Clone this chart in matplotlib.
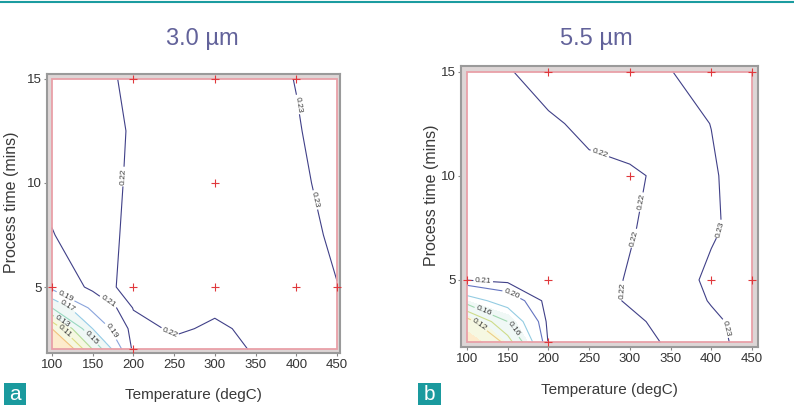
"""Contour maps of a film property over anneal temperature and process time."""

import matplotlib

matplotlib.use("Agg")
import matplotlib.pyplot as plt
from matplotlib.lines import Line2D
from matplotlib.patches import Rectangle

plt.rcParams["font.family"] = ["Liberation Sans", "DejaVu Sans"]

TEMPS = [100, 150, 200, 250, 300, 350, 400, 450]
TIMES = [2, 3, 4, 5, 7.5, 10, 12.5, 15]

# rows follow TIMES, columns follow TEMPS
VALUES_3UM = [
    [0.040, 0.130, 0.2135, 0.2170, 0.2135, 0.2215, 0.2230, 0.2250],
    [0.090, 0.170, 0.2160, 0.2215, 0.2185, 0.2220, 0.2240, 0.2260],
    [0.150, 0.195, 0.2205, 0.2220, 0.2215, 0.2235, 0.2250, 0.2280],
    [0.195, 0.2138, 0.2245, 0.2230, 0.2235, 0.2240, 0.2260, 0.2298],
    [0.2095, 0.2160, 0.2220, 0.2240, 0.2250, 0.2260, 0.2270, 0.2315],
    [0.2130, 0.2155, 0.2215, 0.2245, 0.2255, 0.2265, 0.2285, 0.2325],
    [0.2135, 0.2155, 0.2210, 0.2250, 0.2260, 0.2270, 0.2295, 0.2330],
    [0.2140, 0.2160, 0.2225, 0.2250, 0.2260, 0.2275, 0.2302, 0.2340],
]
VALUES_5UM = [
    [0.060, 0.130, 0.2110, 0.2150, 0.2185, 0.2205, 0.2280, 0.2325],
    [0.110, 0.160, 0.2130, 0.2165, 0.2190, 0.2215, 0.2285, 0.2330],
    [0.170, 0.190, 0.2140, 0.2180, 0.2205, 0.2255, 0.2305, 0.2325],
    [0.2105, 0.2130, 0.2150, 0.2175, 0.2205, 0.2265, 0.2315, 0.2330],
    [0.2130, 0.2150, 0.2160, 0.2175, 0.2195, 0.2225, 0.2290, 0.2330],
    [0.2150, 0.2165, 0.2175, 0.2185, 0.2190, 0.2215, 0.2292, 0.2335],
    [0.2160, 0.2175, 0.2190, 0.2215, 0.2235, 0.2275, 0.2301, 0.2335],
    [0.2170, 0.2195, 0.2230, 0.2245, 0.2260, 0.2298, 0.2335, 0.2340],
]

LEVELS_3UM = [0.09, 0.11, 0.13, 0.15, 0.17, 0.19, 0.21, 0.22, 0.23]
LEVELS_5UM = [0.12, 0.14, 0.16, 0.18, 0.20, 0.21, 0.22, 0.23]

DESIGN_T_3UM = [100, 200, 300, 400, 450, 300, 200, 300, 400, 200]
DESIGN_P_3UM = [5, 5, 5, 5, 5, 10, 15, 15, 15, 2]
DESIGN_T_5UM = [100, 200, 400, 450, 300, 200, 300, 400, 450, 200]
DESIGN_P_5UM = [5, 5, 5, 5, 10, 15, 15, 15, 15, 2]

TITLES = ["3.0 \u00b5m", "5.5 \u00b5m"]
X_LABEL = "Temperature (degC)"
Y_LABEL = "Process time (mins)"

NAVY = "#404088"
LINE_COLOURS = {
    0.09: "#f2c07a", 0.11: "#dcdc82", 0.12: "#ecce86", 0.13: "#b4dc96",
    0.14: "#cedc8a", 0.15: "#98d8c0", 0.16: "#a0d8b0", 0.17: "#96cce8",
    0.18: "#94cce2", 0.19: "#8aa4dc", 0.20: "#6474c0", 0.21: NAVY,
    0.22: NAVY, 0.23: NAVY,
}
FILL_LEVELS = [-1, 0.09, 0.13, 0.17]
FILL_COLOURS = ["#fdebcc", "#f6f8e2", "#f0f8f6"]


def draw_panel(ax, values, levels, label_spots, design_t, design_p, xlim, ylim):
    ax.set_facecolor("#ddd6d6")
    ax.add_patch(Rectangle((100, 2), 350, 13, facecolor="white", edgecolor="none", zorder=0))
    ax.contourf(TEMPS, TIMES, values, levels=FILL_LEVELS, colors=FILL_COLOURS, zorder=1)
    cs = ax.contour(TEMPS, TIMES, values, levels=levels,
                    colors=[LINE_COLOURS[lv] for lv in levels], linewidths=0.8, zorder=2)
    ax.clabel(cs, manual=label_spots, fmt="%.2f", fontsize=6, colors="#3a3a3a",
              inline=True, inline_spacing=2)
    ax.add_patch(Rectangle((100, 2), 350, 13, fill=False, edgecolor="#e9a0a8",
                           linewidth=1.3, zorder=3))
    ax.plot(design_t, design_p, "+", color="#e0383c", ms=5.5, mew=0.8, zorder=4,
            clip_on=False)

    ax.set_xlim(*xlim)
    ax.set_ylim(*ylim)
    ax.set_xticks([100, 150, 200, 250, 300, 350, 400, 450])
    ax.set_yticks([5, 10, 15])
    ax.tick_params(length=2, width=0.8, color="#888888", labelsize=9.5,
                   labelcolor="#333333", pad=2)
    for spine in ax.spines.values():
        spine.set_color("#9a9a9a")
        spine.set_linewidth(1.5)


def main() -> int:
    fig = plt.figure(figsize=(7.94, 4.08), dpi=100)
    ax_a = fig.add_axes([0.0592, 0.1348, 0.369, 0.684])
    ax_b = fig.add_axes([0.5806, 0.1495, 0.374, 0.689])

    draw_panel(
        ax_a, VALUES_3UM, LEVELS_3UM,
        [(192, 10.3), (407, 13.8), (425, 9.2), (171, 4.4), (118, 4.0),
         (112, 3.3), (114, 2.8), (120, 4.8), (149, 2.6), (169, 2.8), (245, 2.8)],
        DESIGN_T_3UM, DESIGN_P_3UM, (94, 453.7), (1.83, 15.24),
    )
    draw_panel(
        ax_b, VALUES_5UM, LEVELS_5UM,
        [(272, 12.05), (319, 8.7), (300, 7.05), (285, 4.5), (413, 7.4),
         (421, 2.7), (120, 5.0), (153, 4.2), (120, 3.45), (112, 2.7), (159, 2.7)],
        DESIGN_T_5UM, DESIGN_P_5UM, (92.6, 457.4), (1.78, 15.27),
    )

    for ax, title, title_x, ylab_x, xlab_y in ((ax_a, TITLES[0], 202, -0.096, -0.125),
                                               (ax_b, TITLES[1], 596, -0.074, -0.128)):
        ax.set_xlabel(X_LABEL, fontsize=11, color="#3a3a3a")
        ax.set_ylabel(Y_LABEL, fontsize=11.5, color="#3a3a3a")
        ax.xaxis.set_label_coords(0.5, xlab_y)
        ax.yaxis.set_label_coords(ylab_x, 0.54)
        fig.text(title_x / 794, 1 - 39 / 408, title,
                 fontsize=17, color="#62629a", ha="center", va="center")

    fig.add_artist(Line2D([0, 1], [0.994, 0.994], color="#1b9ca0", linewidth=1.5,
                          transform=fig.transFigure))
    for letter, x0, w in (("a", 4, 22), ("b", 418, 23)):
        fig.add_artist(Rectangle((x0 / 794, 3 / 408), w / 794, 22 / 408,
                                 facecolor="#1a9a9e", edgecolor="none",
                                 transform=fig.transFigure))
        fig.text((x0 + w / 2) / 794, 14 / 408, letter, fontsize=15, color="white",
                 ha="center", va="center")

    fig.savefig("out.png", dpi=100)
    plt.close(fig)
    return 0


if __name__ == "__main__":
    raise SystemExit(main())
